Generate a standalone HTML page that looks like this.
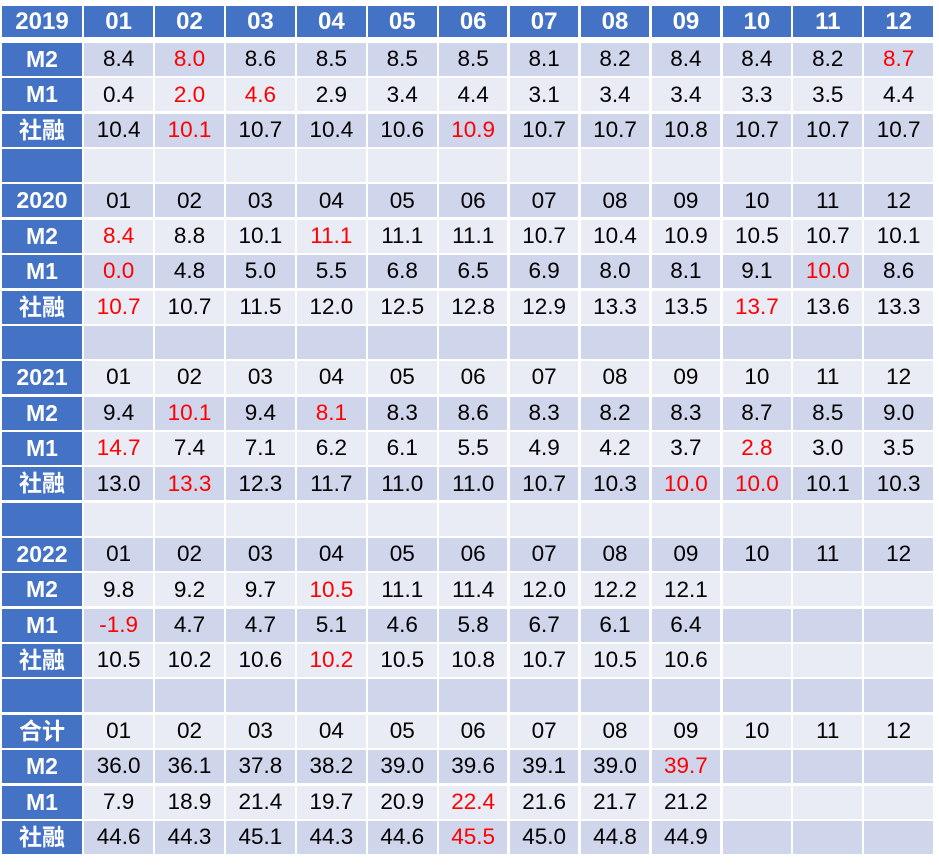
<!DOCTYPE html>
<html><head><meta charset="utf-8"><style>
body{margin:0;background:#fff;width:939px;height:868px;overflow:hidden;font-family:"Liberation Sans","Noto Sans CJK SC",sans-serif;}
.t{position:absolute;left:2px;top:6px;width:931px;}
.row{display:grid;grid-template-columns:80px repeat(12,1fr);grid-template-rows:33px;column-gap:2.3px;height:33px;margin-bottom:2.36px;overflow:hidden;}
.row.hd{height:31px;grid-template-rows:31px;margin-bottom:6px;}
.row div{display:flex;align-items:center;justify-content:center;font-size:22.5px;line-height:1;overflow:hidden;color:#000;}
.row div:first-child{background:#4472C4;color:#fff;font-weight:bold;font-size:23px;}
.hd div{background:#4472C4!important;color:#fff!important;font-weight:bold;font-size:24px!important;}
.d div{background:#CFD5EA;}
.l div{background:#E9EBF5;}
.row div.r{color:#FF0000;}
</style></head><body><div class="t">
<div class="row hd"><div>2019</div><div>01</div><div>02</div><div>03</div><div>04</div><div>05</div><div>06</div><div>07</div><div>08</div><div>09</div><div>10</div><div>11</div><div>12</div></div>
<div class="row d"><div>M2</div><div>8.4</div><div class="r">8.0</div><div>8.6</div><div>8.5</div><div>8.5</div><div>8.5</div><div>8.1</div><div>8.2</div><div>8.4</div><div>8.4</div><div>8.2</div><div class="r">8.7</div></div>
<div class="row l"><div>M1</div><div>0.4</div><div class="r">2.0</div><div class="r">4.6</div><div>2.9</div><div>3.4</div><div>4.4</div><div>3.1</div><div>3.4</div><div>3.4</div><div>3.3</div><div>3.5</div><div>4.4</div></div>
<div class="row d"><div>社融</div><div>10.4</div><div class="r">10.1</div><div>10.7</div><div>10.4</div><div>10.6</div><div class="r">10.9</div><div>10.7</div><div>10.7</div><div>10.8</div><div>10.7</div><div>10.7</div><div>10.7</div></div>
<div class="row l"><div></div><div></div><div></div><div></div><div></div><div></div><div></div><div></div><div></div><div></div><div></div><div></div><div></div></div>
<div class="row d"><div>2020</div><div>01</div><div>02</div><div>03</div><div>04</div><div>05</div><div>06</div><div>07</div><div>08</div><div>09</div><div>10</div><div>11</div><div>12</div></div>
<div class="row l"><div>M2</div><div class="r">8.4</div><div>8.8</div><div>10.1</div><div class="r">11.1</div><div>11.1</div><div>11.1</div><div>10.7</div><div>10.4</div><div>10.9</div><div>10.5</div><div>10.7</div><div>10.1</div></div>
<div class="row d"><div>M1</div><div class="r">0.0</div><div>4.8</div><div>5.0</div><div>5.5</div><div>6.8</div><div>6.5</div><div>6.9</div><div>8.0</div><div>8.1</div><div>9.1</div><div class="r">10.0</div><div>8.6</div></div>
<div class="row l"><div>社融</div><div class="r">10.7</div><div>10.7</div><div>11.5</div><div>12.0</div><div>12.5</div><div>12.8</div><div>12.9</div><div>13.3</div><div>13.5</div><div class="r">13.7</div><div>13.6</div><div>13.3</div></div>
<div class="row d"><div></div><div></div><div></div><div></div><div></div><div></div><div></div><div></div><div></div><div></div><div></div><div></div><div></div></div>
<div class="row l"><div>2021</div><div>01</div><div>02</div><div>03</div><div>04</div><div>05</div><div>06</div><div>07</div><div>08</div><div>09</div><div>10</div><div>11</div><div>12</div></div>
<div class="row d"><div>M2</div><div>9.4</div><div class="r">10.1</div><div>9.4</div><div class="r">8.1</div><div>8.3</div><div>8.6</div><div>8.3</div><div>8.2</div><div>8.3</div><div>8.7</div><div>8.5</div><div>9.0</div></div>
<div class="row l"><div>M1</div><div class="r">14.7</div><div>7.4</div><div>7.1</div><div>6.2</div><div>6.1</div><div>5.5</div><div>4.9</div><div>4.2</div><div>3.7</div><div class="r">2.8</div><div>3.0</div><div>3.5</div></div>
<div class="row d"><div>社融</div><div>13.0</div><div class="r">13.3</div><div>12.3</div><div>11.7</div><div>11.0</div><div>11.0</div><div>10.7</div><div>10.3</div><div class="r">10.0</div><div class="r">10.0</div><div>10.1</div><div>10.3</div></div>
<div class="row l"><div></div><div></div><div></div><div></div><div></div><div></div><div></div><div></div><div></div><div></div><div></div><div></div><div></div></div>
<div class="row d"><div>2022</div><div>01</div><div>02</div><div>03</div><div>04</div><div>05</div><div>06</div><div>07</div><div>08</div><div>09</div><div>10</div><div>11</div><div>12</div></div>
<div class="row l"><div>M2</div><div>9.8</div><div>9.2</div><div>9.7</div><div class="r">10.5</div><div>11.1</div><div>11.4</div><div>12.0</div><div>12.2</div><div>12.1</div><div></div><div></div><div></div></div>
<div class="row d"><div>M1</div><div class="r">-1.9</div><div>4.7</div><div>4.7</div><div>5.1</div><div>4.6</div><div>5.8</div><div>6.7</div><div>6.1</div><div>6.4</div><div></div><div></div><div></div></div>
<div class="row l"><div>社融</div><div>10.5</div><div>10.2</div><div>10.6</div><div class="r">10.2</div><div>10.5</div><div>10.8</div><div>10.7</div><div>10.5</div><div>10.6</div><div></div><div></div><div></div></div>
<div class="row d"><div></div><div></div><div></div><div></div><div></div><div></div><div></div><div></div><div></div><div></div><div></div><div></div><div></div></div>
<div class="row l"><div>合计</div><div>01</div><div>02</div><div>03</div><div>04</div><div>05</div><div>06</div><div>07</div><div>08</div><div>09</div><div>10</div><div>11</div><div>12</div></div>
<div class="row d"><div>M2</div><div>36.0</div><div>36.1</div><div>37.8</div><div>38.2</div><div>39.0</div><div>39.6</div><div>39.1</div><div>39.0</div><div class="r">39.7</div><div></div><div></div><div></div></div>
<div class="row l"><div>M1</div><div>7.9</div><div>18.9</div><div>21.4</div><div>19.7</div><div>20.9</div><div class="r">22.4</div><div>21.6</div><div>21.7</div><div>21.2</div><div></div><div></div><div></div></div>
<div class="row d"><div>社融</div><div>44.6</div><div>44.3</div><div>45.1</div><div>44.3</div><div>44.6</div><div class="r">45.5</div><div>45.0</div><div>44.8</div><div>44.9</div><div></div><div></div><div></div></div>
</div></body></html>
